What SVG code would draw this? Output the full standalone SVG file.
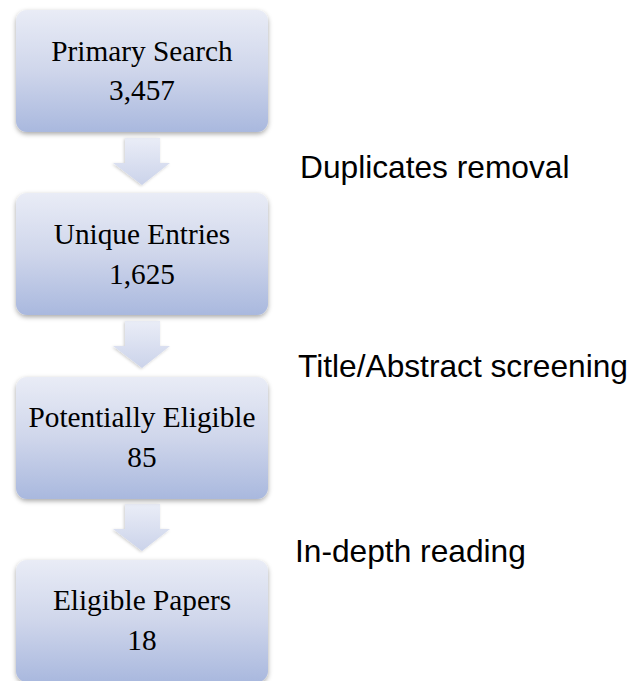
<svg xmlns="http://www.w3.org/2000/svg" width="635" height="681" viewBox="0 0 635 681">
<defs>
<linearGradient id="boxg" x1="0" y1="0" x2="0" y2="1">
<stop offset="0" stop-color="#e9ecf6"/>
<stop offset="0.5" stop-color="#cfd6eb"/>
<stop offset="1" stop-color="#a9b8de"/>
</linearGradient>
<linearGradient id="arrg" x1="0" y1="0" x2="0" y2="1">
<stop offset="0" stop-color="#eaedf7"/>
<stop offset="1" stop-color="#cbd3ea"/>
</linearGradient>
<filter id="sh" x="-10%" y="-10%" width="120%" height="130%">
<feDropShadow dx="0" dy="2" stdDeviation="2.5" flood-color="#000" flood-opacity="0.35"/>
</filter>
<filter id="ash" x="-20%" y="-20%" width="140%" height="140%">
<feDropShadow dx="-1" dy="1" stdDeviation="1.5" flood-color="#000" flood-opacity="0.2"/>
</filter>
</defs>
<style>
.box{fill:url(#boxg);filter:url(#sh)}
.arr{fill:url(#arrg);filter:url(#ash)}
.nt{font-family:"Liberation Serif","Times New Roman",serif;font-size:29.3px;fill:#000;text-anchor:middle}
.lb{font-family:"Liberation Sans",Arial,sans-serif;font-size:31.7px;fill:#000}
</style>
<g id="connectors">
<path class="arr" d="M125,138 H160 V163 H170 L142,185 L113,163 H125 Z"/>
<path class="arr" d="M125,321 H160 V346 H170 L142,368 L113,346 H125 Z"/>
<path class="arr" d="M125,504 H160 V529 H170 L142,551 L113,529 H125 Z"/>
</g>
<g id="node-primary">
<rect class="box" x="16" y="10" width="252" height="122" rx="11"/>
<text class="nt" x="142" y="61">Primary Search</text>
<text class="nt" x="142" y="100">3,457</text>
</g>
<g id="node-unique">
<rect class="box" x="16" y="193" width="252" height="122" rx="11"/>
<text class="nt" x="142" y="244">Unique Entries</text>
<text class="nt" x="142" y="284">1,625</text>
</g>
<g id="node-potential">
<rect class="box" x="16" y="377" width="252" height="122" rx="11"/>
<text class="nt" x="142" y="427">Potentially Eligible</text>
<text class="nt" x="142" y="467">85</text>
</g>
<g id="node-eligible">
<rect class="box" x="16" y="560" width="252" height="122" rx="11"/>
<text class="nt" x="142" y="610">Eligible Papers</text>
<text class="nt" x="142" y="650">18</text>
</g>
<g id="labels">
<text class="lb" x="300" y="178">Duplicates removal</text>
<text class="lb" x="298" y="377">Title/Abstract screening</text>
<text class="lb" x="295" y="562">In-depth reading</text>
</g>
</svg>
